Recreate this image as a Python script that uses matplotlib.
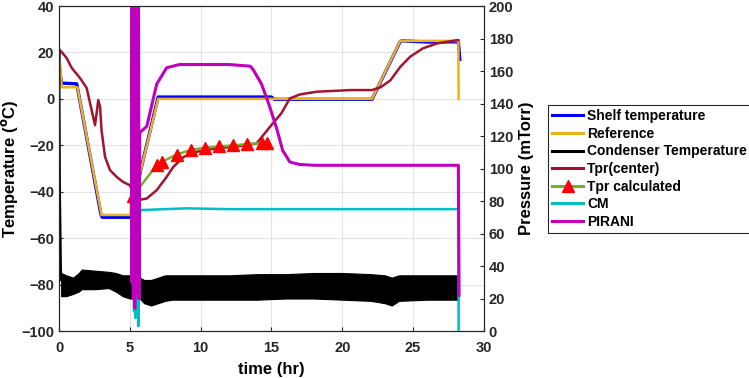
import matplotlib
matplotlib.use("Agg")
import matplotlib.pyplot as plt
from matplotlib.lines import Line2D

plt.rcParams['font.family'] = ['Liberation Sans', 'DejaVu Sans']
plt.rcParams['font.weight'] = 'bold'

# ---------------- data ----------------
shelf_t = [0, 0.05, 0.18, 1.25, 2.95, 3.05, 5.1, 5.25, 7.0, 7.2, 15.0, 15.2, 22.1, 24.1, 24.3, 26.0, 28.2, 28.3]
shelf_T = [20, 12, 6.8, 6.5, -49.5, -51, -51, -44, 0.8, 0.8, 0.8, -0.2, -0.2, 24.8, 25, 24.5, 24.6, 17]

ref_t = [0, 0.2, 1.3, 3.0, 5.05, 5.08, 5.25, 7.0, 22.1, 24.1, 28.2, 28.22]
ref_T = [19, 5, 5, -50, -50, -44, -44, 0, 0, 25, 25, 0]

cond_start_t = [0, 0.05, 0.12, 0.15]
cond_start_T = [20, -40, -73, -78]
cond_t = [0.15, 0.5, 1.0, 1.4, 1.6, 2.5, 3.5, 4.0, 4.5, 5.0, 5.2, 5.7, 6.0, 6.5, 7.0, 7.5, 8.0,
          10, 12, 14, 16, 18, 20, 22, 23, 23.5, 24, 26, 28.2]
cond_hi = [-75, -76, -77, -75, -73.5, -74, -74.5, -75, -76, -76, -76, -77, -78, -78, -77, -76, -76,
           -76, -76, -75.5, -75.5, -75, -75, -75.5, -76, -77, -76, -76, -76]
cond_lo = [-85, -85, -84, -83, -82, -82, -81.5, -83, -85, -86, -86, -86, -88, -89, -88, -87, -86.5,
           -86.5, -86.5, -86.5, -86, -86, -86.5, -87, -88, -89, -87, -86.5, -86.5]

tpr_t = [0, 0.54, 0.9, 1.48, 1.95, 2.3, 2.54, 2.66, 2.77, 2.9, 3.0, 3.25, 3.6, 4.07, 4.5, 5.0, 5.24,
         5.6, 6.2, 6.9, 7.6, 8.07, 8.8, 9.7, 11.1, 12.8, 13.95, 14.9, 15.7, 16.3, 17.0, 18.2, 20.6,
         22.1, 22.7, 23.4, 24.1, 24.8, 25.7, 26.7, 28.1, 28.2]
tpr_T = [21.5, 17.6, 13.3, 9, 4.7, -4.8, -11.3, -6, -0.5, -3.4, -13.4, -25, -30.7, -33.6, -35.7, -37.2, -40,
         -43.6, -42.9, -39.3, -33.6, -29.3, -25, -22.8, -21.3, -20.3, -19.2, -12, -6.2, 0.2, 1.9, 3.1, 3.8,
         3.8, 5, 8, 13.8, 18.2, 21.8, 23.9, 25.3, 25.3]

calc_t = [5.2, 6.9, 7.3, 8.3, 9.3, 10.3, 11.3, 12.3, 13.3, 14.3, 14.7]
calc_T = [-42, -28.5, -27, -24, -22, -21, -20.5, -20, -19.5, -19, -19]

cm_t = [5.25, 5.3, 5.35, 5.4, 5.45, 5.5, 5.55, 5.6, 5.65, 5.7, 5.75, 6.0, 9.0, 12, 15, 18, 21, 24, 27, 28.2, 28.22]
cm_P = [40, 12, 35, 8, 30, 20, 30, 3, 32, 70, 74.5, 74.5, 75.5, 75, 75, 75, 75, 75, 75, 75, 0]

pir_t = [5.12, 5.15, 5.2, 5.25, 5.3, 5.35, 5.4, 5.45, 5.5, 5.55, 5.6, 5.65, 5.7, 6.2, 6.9, 7.6, 8.5,
         10, 12, 13.5, 13.7, 14.3, 14.8, 15.36, 15.8, 16.3, 17.0, 18, 20, 22, 24, 26, 28.2, 28.25]
pir_P = [250, 30, 250, 20, 250, 14, 250, 25, 250, 23, 250, 20, 122, 126, 152, 162, 164,
         164, 164, 163, 161, 152, 140, 125, 111, 104, 102.5, 102, 102, 102, 102, 102, 102, 22]

temp_ticks = [-100, -80, -60, -40, -20, 0, 20, 40]
pres_ticks = [0, 20, 40, 60, 80, 100, 120, 140, 160, 180, 200]
time_ticks = [0, 5, 10, 15, 20, 25, 30]

# ---------------- styling ----------------
c_shelf = '#0000FF'
c_ref = '#EDB120'
c_cond = '#000000'
c_tpr = '#A2142F'
c_calc = '#77AC30'
c_cm = '#00BFBF'
c_pir = '#BF00BF'
lw = 1.8

fig = plt.figure(figsize=(7.49, 3.78), dpi=100)
ax = fig.add_axes([0.0788, 0.1243, 0.646 - 0.0788, 0.984 - 0.1243])
ax2 = ax.twinx()

ax.plot(shelf_t, shelf_T, color=c_shelf, lw=lw + 0.6)
ax.plot(ref_t, ref_T, color=c_ref, lw=lw)
ax.plot(cond_start_t, cond_start_T, color=c_cond, lw=lw)
ax.fill_between(cond_t, cond_lo, cond_hi, color=c_cond, lw=0.8)
ax.plot(tpr_t, tpr_T, color=c_tpr, lw=lw)
ax.plot(calc_t, calc_T, color=c_calc, lw=lw, zorder=3)
ax.plot(calc_t, calc_T, lw=0, marker='^', markersize=8,
        markerfacecolor='#FF0000', markeredgecolor='#FF0000', zorder=4)

ax2.plot(cm_t, cm_P, color=c_cm, lw=lw)
ax2.plot(pir_t, pir_P, color=c_pir, lw=lw + 0.4)

ax.set_xlim(0, 30)
ax.set_ylim(-100, 40)
ax2.set_ylim(0, 200)
ax.set_xticks(time_ticks)
ax.set_yticks(temp_ticks)
ax2.set_yticks(pres_ticks)

ax.grid(True, color='#E3E3E3', lw=0.8)
ax.set_axisbelow(True)

for a in (ax, ax2):
    a.tick_params(direction='in', length=3, labelsize=10.5, colors='#262626')
    for s in a.spines.values():
        s.set_color('#262626')
        s.set_linewidth(0.8)
ax.tick_params(axis='x', pad=7)
for lab in ax.get_xticklabels() + ax.get_yticklabels() + ax2.get_yticklabels():
    lab.set_fontweight('bold')

ax.set_xlabel('time (hr)', fontsize=12, fontweight='bold', labelpad=5.5)
ax.set_ylabel('Temperature ($\\mathbf{^{o}}$C)', fontsize=12, fontweight='bold')
ax.yaxis.set_label_coords(-0.091, 0.5)
ax2.set_ylabel('Pressure (mTorr)', fontsize=12, fontweight='bold', labelpad=4)

handles = [
    Line2D([], [], color=c_shelf, lw=2.2),
    Line2D([], [], color=c_ref, lw=2.2),
    Line2D([], [], color=c_cond, lw=2.2),
    Line2D([], [], color=c_tpr, lw=2.2),
    Line2D([], [], color=c_calc, lw=2.2, marker='^', markersize=8,
           markerfacecolor='#FF0000', markeredgecolor='#FF0000'),
    Line2D([], [], color=c_cm, lw=2.2),
    Line2D([], [], color=c_pir, lw=2.2),
]
labels = ['Shelf temperature', 'Reference', 'Condenser Temperature', 'Tpr(center)',
          'Tpr calculated', 'CM', 'PIRANI']
leg = fig.legend(handles, labels, loc='upper left', bbox_to_anchor=(0.7316, 0.722),
                 bbox_transform=fig.transFigure, borderaxespad=0, fancybox=False,
                 edgecolor='#262626', framealpha=1, prop={'weight': 'bold', 'size': 10},
                 handlelength=2.25, handletextpad=0.28, labelspacing=0.26, borderpad=0.3)
leg.get_frame().set_linewidth(0.8)

fig.savefig('out.png', dpi=100)
